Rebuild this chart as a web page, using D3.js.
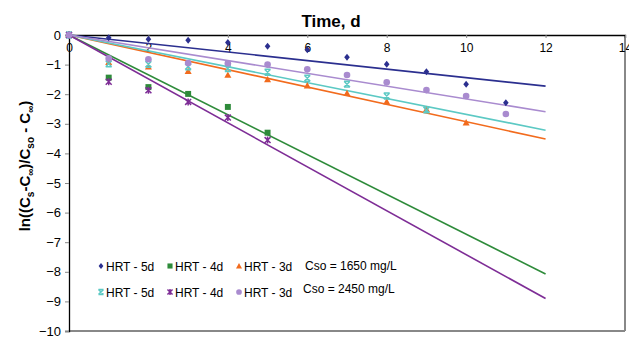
<!DOCTYPE html>
<html><head><meta charset="utf-8">
<script src="https://cdn.jsdelivr.net/npm/d3@7"></script>
<style>body{margin:0;background:#fff}svg{display:block;font-family:Arial,"Liberation Sans",sans-serif}</style>
</head><body><svg id="c" width="629" height="337"></svg>
<script>
const xTicks = [0,2,4,6,8,10,12,14];
const yTicks = [0,-1,-2,-3,-4,-5,-6,-7,-8,-9,-10];
const seriesNames = ["HRT - 5d","HRT - 4d","HRT - 3d","HRT - 5d","HRT - 4d","HRT - 3d"];
const days = [0,1,2,3,4,5,6,7,8,9,10,11];
const navy5d   = [0,-0.09,-0.14,-0.18,-0.25,-0.38,-0.5,-0.75,-0.99,-1.24,-1.66,-2.29];
const green4d  = [0,-1.44,-1.76,-1.99,-2.43,-3.3];
const orange3d = [0,-0.92,-1.07,-1.22,-1.35,-1.5,-1.71,-1.97,-2.25,-2.51,-2.96];
const cyan5d   = [0,-0.97,-0.99,-1.07,-1.13,-1.26,-1.46,-1.66,-2.06,-2.53];
const purple4d = [0,-1.58,-1.87,-2.26,-2.79,-3.55];
const lilac3d  = [0,-0.79,-0.82,-0.95,-0.96,-1.0,-1.16,-1.35,-1.6,-1.86,-2.06,-2.67];
const slopes = [-0.144,-0.673,-0.293,-0.268,-0.742,-0.216];
const trendEnd = 12;
const colors = ["#2B2F8F","#2E8B3A","#F26B1D","#5CC9C4","#7E2D96","#A98BCF"];
const markers = ["diamond","square","triangle","xbar","star","circle"];
const values = [navy5d,green4d,orange3d,cyan5d,purple4d,lilac3d];
const csoLabels = ["Cso = 1650 mg/L","Cso = 2450 mg/L"];

const svg = d3.select("#c");
const x = d3.scaleLinear().domain([0,14]).range([69,625]);
const y = d3.scaleLinear().domain([-10,0]).range([331,35]);

// plot border
svg.append("line").attr("x1",x(14)).attr("x2",x(14)).attr("y1",y(0)).attr("y2",y(-10)).attr("stroke","#888").attr("stroke-width",2);
svg.append("line").attr("x1",x(0)).attr("x2",x(14)).attr("y1",y(-10)).attr("y2",y(-10)).attr("stroke","#888").attr("stroke-width",2);

// y axis
const ya = svg.append("g").attr("transform",`translate(${x(0)},0)`)
  .call(d3.axisLeft(y).tickValues(yTicks).tickSize(4).tickPadding(4).tickFormat(d3.format("d")));
ya.select(".domain").attr("stroke","#000").attr("stroke-width",1.3);
ya.selectAll(".tick line").attr("stroke","#888");
ya.selectAll("text").attr("font-size",13).attr("fill","#000").attr("font-family","Arial");

// x axis (at top, labels inside)
const xa = svg.append("g").attr("transform",`translate(0,${y(0)})`)
  .call(d3.axisBottom(x).tickValues(xTicks).tickSize(3).tickPadding(5));
xa.select(".domain").attr("stroke","#000").attr("stroke-width",1.3);
xa.selectAll(".tick line").attr("stroke","#888");
xa.selectAll("text").attr("font-size",12).attr("fill","#000").attr("font-family","Arial");

// title
svg.append("text").attr("x",331).attr("y",27).attr("text-anchor","middle")
  .attr("font-size",17).attr("font-weight","bold").text("Time, d");

// y label
const yl = svg.append("text").attr("transform","translate(30,166) rotate(-90)")
  .attr("text-anchor","middle").attr("font-size",15).attr("font-weight","bold");
yl.append("tspan").text("ln((C");
yl.append("tspan").attr("font-size",10).attr("dy",4).text("s");
yl.append("tspan").attr("dy",-4).text("-C");
yl.append("tspan").attr("font-size",10).attr("dy",4).text("∞");
yl.append("tspan").attr("dy",-4).text(")/C");
yl.append("tspan").attr("font-size",10).attr("dy",4).text("so");
yl.append("tspan").attr("dy",-4).text(" - C");
yl.append("tspan").attr("font-size",10).attr("dy",4).text("∞");
yl.append("tspan").attr("dy",-4).text(")");

// trend lines
slopes.forEach((s,i)=>{
  svg.append("line").attr("x1",x(0)).attr("y1",y(0)).attr("x2",x(trendEnd)).attr("y2",y(s*trendEnd))
    .attr("stroke",colors[i]).attr("stroke-width",1.6);
});

function drawMarker(g, type, cx, cy, col, sz){
  const r = sz;
  if(type==="diamond"){
    g.append("path").attr("d",`M${cx},${cy-r}L${cx+r*0.8},${cy}L${cx},${cy+r}L${cx-r*0.8},${cy}Z`).attr("fill",col);
  } else if(type==="square"){
    g.append("rect").attr("x",cx-r*0.85).attr("y",cy-r*0.85).attr("width",r*1.7).attr("height",r*1.7).attr("fill",col);
  } else if(type==="triangle"){
    g.append("path").attr("d",`M${cx},${cy-r}L${cx+r},${cy+r*0.8}L${cx-r},${cy+r*0.8}Z`).attr("fill",col);
  } else if(type==="circle"){
    g.append("circle").attr("cx",cx).attr("cy",cy).attr("r",r*0.95).attr("fill",col);
  } else if(type==="xbar"){
    const d=r*0.85;
    g.append("path").attr("d",`M${cx-d},${cy-d}L${cx+d},${cy+d}M${cx+d},${cy-d}L${cx-d},${cy+d}M${cx-d},${cy-d}L${cx+d},${cy-d}M${cx-d},${cy+d}L${cx+d},${cy+d}`)
      .attr("stroke",col).attr("stroke-width",1.5).attr("fill","none");
  } else if(type==="star"){
    const d=r*0.85;
    g.append("path").attr("d",`M${cx-d},${cy-d}L${cx+d},${cy+d}M${cx+d},${cy-d}L${cx-d},${cy+d}M${cx},${cy-r}L${cx},${cy+r}`)
      .attr("stroke",col).attr("stroke-width",1.5).attr("fill","none");
  }
}

// markers
const mg = svg.append("g");
values.forEach((vals,i)=>{
  vals.forEach((v,j)=>{
    drawMarker(mg, markers[i], x(days[j]), y(v), colors[i], 3.5);
  });
});

// legend
const lg = svg.append("g").attr("font-size",12).attr("font-family","Arial");
const colX = [101,170,239];
const rowY = [266,292];
seriesNames.forEach((n,i)=>{
  const cx = colX[i%3], cy = rowY[Math.floor(i/3)];
  drawMarker(lg, markers[i], cx, cy, colors[i], 3);
  lg.append("text").attr("x",cx+5).attr("y",cy+4.5).text(n);
});
lg.append("text").attr("x",305).attr("y",270).text(csoLabels[0]);
lg.append("text").attr("x",303).attr("y",293).text(csoLabels[1]);
</script></body></html>
